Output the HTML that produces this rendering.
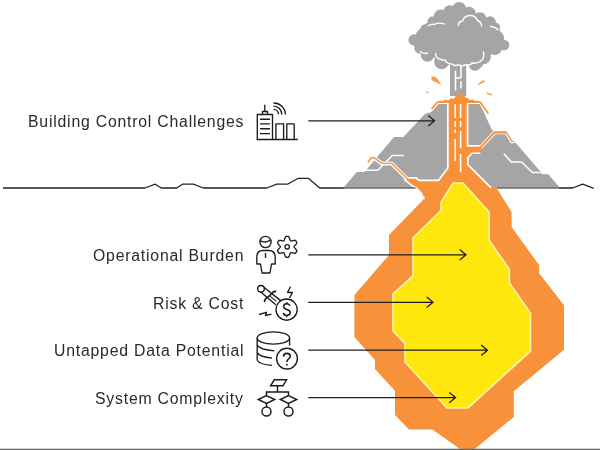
<!DOCTYPE html>
<html>
<head>
<meta charset="utf-8">
<title>Building Control Challenges</title>
<style>
html,body{margin:0;padding:0;background:#fff;}
body{width:600px;height:450px;overflow:hidden;position:relative;font-family:"Liberation Sans",sans-serif;}
svg{position:absolute;left:0;top:0;display:block;}
.lbl{position:absolute;right:356px;white-space:nowrap;color:#2a2a2a;font-size:15.8px;line-height:18px;letter-spacing:0.79px;will-change:transform;text-align:right;}
</style>
</head>
<body>
<svg width="600" height="450" viewBox="0 0 600 450">
<!-- ===== underground magma ===== -->
<g id="magma">
<path fill="#F7923A" d="M419,181 L440,181 L470,181 L488,187 L496,187 L511.6,212 L511.6,227 L539.2,265.3 L539.2,273.3 L564,305.3 L564,349.8 L513.8,391.3 L513.8,417 L474.7,449 L460,449 L432.4,429.6 L409,429.6 L395,415 L395,391 L375,369 L375,360 L354.4,337 L354.4,295 L389,255 L389,235 L423,200 L422.6,193.5 L417,187.5 Z"/>

</g>

<!-- ===== smoke ===== -->
<g id="smoke" fill="#A5A5A5">
<path d="M432,20 L459,5 L498,25 L505,45 L480,62 L440,62 L414,42 Z"/>
<circle cx="459.2" cy="9" r="7"/>
<circle cx="450" cy="12" r="6.8"/>
<circle cx="441" cy="17" r="7.5"/>
<circle cx="432.5" cy="21.5" r="5"/>
<circle cx="469" cy="13.5" r="6.8"/>
<circle cx="480" cy="18.5" r="6.2"/>
<circle cx="490" cy="22" r="5.8"/>
<circle cx="495.8" cy="27" r="4.2"/>
<circle cx="496.7" cy="38.3" r="7.5"/>
<circle cx="504" cy="45" r="5.3"/>
<circle cx="495" cy="48.3" r="6.7"/>
<circle cx="483.3" cy="56.7" r="7.5"/>
<circle cx="475" cy="64.5" r="6.2"/>
<circle cx="465" cy="57" r="8.3"/>
<circle cx="450" cy="55" r="8.8"/>
<circle cx="423.3" cy="35.8" r="7.5"/>
<circle cx="414.2" cy="40" r="5.8"/>
<circle cx="420" cy="48" r="5.8"/>
<circle cx="427.5" cy="55" r="6.7"/>
<circle cx="441.7" cy="61.7" r="7.5"/>
<circle cx="455" cy="58" r="9"/>
<circle cx="471.7" cy="57" r="8.3"/>
<circle cx="478.3" cy="63.3" r="5"/>
<circle cx="430" cy="28" r="6"/>
<circle cx="426" cy="30" r="6"/>
<rect x="450" y="60" width="16.2" height="36"/>
</g>
<g fill="none" stroke="#fff" stroke-width="1.4" stroke-linecap="round">
<path d="M458.3,25.5 Q458.5,21.5 462.5,21 Q464.5,15.5 470,15.5 Q475.5,15.5 477.5,20.5 Q481,21.5 481.7,26"/>
<path d="M428.5,25.8 Q431,23.5 434.5,24.5 Q439,22 444.2,24"/>
<path d="M490.5,26.5 Q495,26.5 498,30"/>
<path d="M420,51.5 Q424,54.5 427.5,53"/>
<path d="M435.5,53.5 Q436,59 441,59.5 Q443,60.5 445,60 Q447,64 452,64 Q455.2,66.6 458.6,64.6 Q462.2,66.8 466,64.6 Q470,66 472.4,63"/>
<path d="M483.5,52 Q485,59 480,61.5 Q476,64 472,63"/>
<path stroke-width="1.6" stroke-linecap="butt" d="M455.5,70.5 V90.5 M460.9,65 V78 M460.9,81.3 V88.5 M455.5,78 H460.9"/>
</g>

<!-- ===== volcano ===== -->
<g id="volcano">
<!-- mountain silhouette -->
<path fill="#A5A5A5" d="M343.3,188 L356.7,172 L364.5,172 L394,137 L403.3,137 L425,114 L431.3,112 L437.3,104 L480,104 L492,130 L494,131 L507,131 L512,141 L515.8,143 L540.8,172 L541.2,174 L548.3,174.2 L560,188 Z"/>
<!-- white step lines -->
<g fill="none" stroke="#fff" stroke-width="1.6">
<path d="M365,170.3 L377.8,170.3 L392.3,155.5 L404,155.5"/>
<path d="M503.8,153.8 L511.5,162 L521.5,162 L532.5,172.5 L540.5,172.5"/>
</g>
<!-- lava: white underlay -->
<g fill="none" stroke="#fff" stroke-linejoin="miter">
<path stroke-width="3.8" d="M367.8,162.8 L371.3,158 L374.3,158 L381.8,163.6 L391.8,163.6 L408,179.8"/>
<path stroke-width="3.8" d="M479,149 L494.6,132.4 L506.5,132.4 L511.8,141.4 L514,141.4"/>
<path stroke-width="3.4" d="M422.9,199.5 L422.6,193.5 L417,187.5 L412.2,184.7 L406.3,180 L408,178.8 L415.7,178.8 L418.6,181.2 L439,181.2 L448.7,168.3 L448.7,103"/>
<path stroke-width="3.4" d="M466.7,103 L466.7,146.7 L480,146.7 M480.3,152.4 L471.5,152.4 L467,157.5 L467,165 L490.5,188.5"/>
<path stroke-width="3.8" d="M431.2,109.5 L437.5,102 L480.2,102 L488.6,114"/>
</g>
<!-- lava: orange -->
<g fill="none" stroke="#F7923A" stroke-linejoin="miter">
<path stroke-width="1.4" d="M367.8,162.5 L371.3,157.8 L374.3,157.8 L381.8,163.4 L391.8,163.4 L408,179.4"/>
<path stroke-width="2.1" d="M479,149 L494.6,132.4 L506.5,132.4"/>
<path stroke-width="1.4" d="M506.5,132.4 L511.8,141.4 L514,141.4"/>
<path stroke-width="1.7" d="M431.6,109 L437.5,102 L480.2,102 L488.3,113.5"/>
</g>
<path fill="#F7923A" d="M448.7,100 L466.7,100 L466.7,146.7 L480.5,146.7 L482,150 L480.3,152.4 L471.5,152.4 L467,157.5 L467,165 L490,188 L500,196 L423,196 L422.6,193.5 L417,187.5 L412.2,184.7 L406.3,180 L408,178.8 L415.7,178.8 L418.6,181.2 L439,181.2 L448.7,168.3 Z"/>
<!-- lava top -->
<path fill="#F7923A" d="M437.5,103 L440,100.5 L443,101 L445,99.5 L448,100.5 L451,98.5 L454.5,98.5 Q455.5,94 459.5,93.3 Q464,93.5 465.5,97.5 L468,98.5 L470,100 L473,99.5 L475,101 L478,100.5 L480.2,103 Z"/>
<!-- white dashes in conduit -->
<g stroke="#fff" stroke-width="1.5" fill="none">
<path d="M455.2,104 V118 M455.2,121 V127 M455.2,129.5 V133 M455.2,139 V161"/>
<path d="M460.6,104 V118 M460.6,121 V127 M460.6,131 V148 M460.6,154 V172"/>
</g>
</g>

<!-- yellow core -->
<path fill="#FFE60C" stroke="#FFF3A6" stroke-width="1.7" d="M453,183 L463,183 L489,212 L489,240 L509.3,269.3 L509.3,282.7 L530.5,313.3 L530.5,351 L468,408 L447,408 L405,362 L405,343.5 L393,331 L393,294 L413,276 L413,238 L441,210.5 L441,202.5 Z"/>
<!-- sparks -->
<g id="sparks" fill="#F99B45">
<path d="M431.4,77.2 Q433.4,75.2 436.6,78 Q439.4,80.8 441.2,85 Q437,82.4 433.6,81.2 Q430.6,79.8 431.4,77.2 Z"/>
<path d="M477.2,85.6 Q479,81.6 484.6,80.2 Q485.6,82 482.2,83.2 Q479.6,84 477.2,85.6 Z"/>
<path d="M487,92.2 L492.4,94.2 L491.9,95.8 L486.7,93.9 Z" opacity="0.85"/>
<path d="M426.4,91 L429.2,92 L428.7,93.4 L426,92.5 Z" opacity="0.75"/>
</g>

<!-- ground line -->
<path fill="none" stroke="#222" stroke-width="1.3" stroke-linejoin="round" d="M3,188 L144.7,188 L155.3,184.2 L161.3,188 L176.7,188 L182.5,184.2 L193.3,184.2 L203.3,188 L266.7,188 L276.7,184.2 L287.5,184.2 L298.3,178.3 L308.3,178.3 L319.7,188 L344,188"/>
<path fill="none" stroke="#6b6b6b" stroke-width="1.3" d="M343.5,188 L415.5,188 M497,188 L560,188"/>
<path fill="none" stroke="#222" stroke-width="1.3" stroke-linejoin="round" d="M559.5,188 L572.5,188 L582.8,184.2 L593.7,188.3"/>
<!-- ===== arrows ===== -->
<g id="arrows" fill="none" stroke="#1e1e1e" stroke-width="1.25" stroke-linejoin="miter">
<path d="M308.3,120.8 L434.20000000000005,120.8 M428.3,115.6 L434.6,120.8 L428.3,126.0"/>
<path d="M308.3,254.8 L465.6,254.8 M459.7,249.6 L466,254.8 L459.7,260.0"/>
<path d="M308.3,302.3 L432.6,302.3 M426.7,297.1 L433,302.3 L426.7,307.5"/>
<path d="M308.3,350.2 L487.1,350.2 M481.2,345.0 L487.5,350.2 L481.2,355.4"/>
<path d="M308.3,397.6 L455.20000000000005,397.6 M449.3,392.4 L455.6,397.6 L449.3,402.8"/>
</g>
<!-- ===== icons ===== -->
<g id="icons" fill="none" stroke="#1c1c1c" stroke-width="1.35" stroke-linejoin="round" stroke-linecap="butt">
<!-- building -->
<g>
<path d="M256.7,139.5 H297.8"/>
<path d="M257.3,139.5 V114.5 H272.5 V139.5"/>
<path d="M262.5,114.5 V111.5 H267.5 V114.5"/>
<path d="M264.8,111.5 V104.7"/>
<path d="M260,119.2 H270 M260,123.9 H270 M260,128.7 H270 M260,133.6 H270"/>
<path d="M275.9,139.5 V123.9 H283.6 V139.5"/>
<path d="M286.8,139.5 V123.9 H294.2 V139.5"/>
<path d="M273.5,109.4 A5,5 0 0 1 278.5,114.3"/>
<path d="M273.5,106.2 A8.3,8.3 0 0 1 281.9,114.4"/>
<path d="M273.5,103 A11.7,11.7 0 0 1 285.4,114.5"/>
</g>
<!-- person + gear -->
<g>
<circle cx="265.5" cy="242" r="5.6"/>
<path d="M260.2,240.6 Q265,243.6 271,239.9"/>
<path d="M262.5,250.5 H269 Q275.2,250.5 275.2,257.5 V264 H271.5 L270,273 H262 L260.5,264 H256.8 V257.5 Q256.8,250.5 262.5,250.5 Z"/>
<path d="M265.5,253 V258"/>
<path d="M287.20,236.30 L287.38,236.30 L287.57,236.31 L287.75,236.31 L287.93,236.33 L288.12,236.34 L288.30,236.36 L288.48,236.38 L288.64,236.53 L288.79,236.74 L288.93,236.97 L289.07,237.20 L289.19,237.45 L289.30,237.71 L289.40,237.97 L289.50,238.23 L289.58,238.49 L289.66,238.74 L289.74,238.99 L289.81,239.22 L289.88,239.45 L289.94,239.66 L290.00,239.86 L290.07,240.04 L290.14,240.20 L290.21,240.35 L290.28,240.48 L290.37,240.59 L290.45,240.68 L290.55,240.76 L290.65,240.82 L290.76,240.88 L290.87,240.92 L291.00,240.95 L291.13,240.97 L291.28,240.97 L291.44,240.96 L291.62,240.94 L291.81,240.90 L292.01,240.86 L292.23,240.81 L292.46,240.75 L292.70,240.69 L292.95,240.64 L293.21,240.58 L293.48,240.52 L293.75,240.48 L294.03,240.44 L294.30,240.41 L294.58,240.39 L294.85,240.38 L295.12,240.39 L295.37,240.41 L295.59,240.48 L295.69,240.63 L295.80,240.78 L295.90,240.93 L296.01,241.08 L296.10,241.24 L296.20,241.39 L296.29,241.55 L296.38,241.71 L296.47,241.87 L296.56,242.03 L296.64,242.20 L296.72,242.36 L296.79,242.53 L296.87,242.70 L296.82,242.91 L296.71,243.15 L296.58,243.38 L296.44,243.62 L296.29,243.85 L296.12,244.07 L295.95,244.29 L295.77,244.50 L295.59,244.71 L295.41,244.90 L295.24,245.09 L295.07,245.27 L294.90,245.44 L294.75,245.60 L294.61,245.76 L294.49,245.91 L294.38,246.05 L294.29,246.18 L294.22,246.31 L294.16,246.44 L294.13,246.56 L294.11,246.68 L294.10,246.80 L294.11,246.92 L294.13,247.04 L294.16,247.16 L294.22,247.29 L294.29,247.42 L294.38,247.55 L294.49,247.69 L294.61,247.84 L294.75,248.00 L294.90,248.16 L295.07,248.33 L295.24,248.51 L295.41,248.70 L295.59,248.89 L295.77,249.10 L295.95,249.31 L296.12,249.53 L296.29,249.75 L296.44,249.98 L296.58,250.22 L296.71,250.45 L296.82,250.69 L296.87,250.90 L296.79,251.07 L296.72,251.24 L296.64,251.40 L296.56,251.57 L296.47,251.73 L296.38,251.89 L296.29,252.05 L296.20,252.21 L296.10,252.36 L296.01,252.52 L295.90,252.67 L295.80,252.82 L295.69,252.97 L295.59,253.12 L295.37,253.19 L295.12,253.21 L294.85,253.22 L294.58,253.21 L294.30,253.19 L294.03,253.16 L293.75,253.12 L293.48,253.08 L293.21,253.02 L292.95,252.96 L292.70,252.91 L292.46,252.85 L292.23,252.79 L292.01,252.74 L291.81,252.70 L291.62,252.66 L291.44,252.64 L291.28,252.63 L291.13,252.63 L291.00,252.65 L290.87,252.68 L290.76,252.72 L290.65,252.78 L290.55,252.84 L290.45,252.92 L290.37,253.01 L290.28,253.12 L290.21,253.25 L290.14,253.40 L290.07,253.56 L290.00,253.74 L289.94,253.94 L289.88,254.15 L289.81,254.38 L289.74,254.61 L289.66,254.86 L289.58,255.11 L289.50,255.37 L289.40,255.63 L289.30,255.89 L289.19,256.15 L289.07,256.40 L288.93,256.63 L288.79,256.86 L288.64,257.07 L288.48,257.22 L288.30,257.24 L288.12,257.26 L287.93,257.27 L287.75,257.29 L287.57,257.29 L287.38,257.30 L287.20,257.30 L287.02,257.30 L286.83,257.29 L286.65,257.29 L286.47,257.27 L286.28,257.26 L286.10,257.24 L285.92,257.22 L285.76,257.07 L285.61,256.86 L285.47,256.63 L285.33,256.40 L285.21,256.15 L285.10,255.89 L285.00,255.63 L284.90,255.37 L284.82,255.11 L284.74,254.86 L284.66,254.61 L284.59,254.38 L284.52,254.15 L284.46,253.94 L284.40,253.74 L284.33,253.56 L284.26,253.40 L284.19,253.25 L284.12,253.12 L284.03,253.01 L283.95,252.92 L283.85,252.84 L283.75,252.78 L283.64,252.72 L283.53,252.68 L283.40,252.65 L283.27,252.63 L283.12,252.63 L282.96,252.64 L282.78,252.66 L282.59,252.70 L282.39,252.74 L282.17,252.79 L281.94,252.85 L281.70,252.91 L281.45,252.96 L281.19,253.02 L280.92,253.08 L280.65,253.12 L280.37,253.16 L280.10,253.19 L279.82,253.21 L279.55,253.22 L279.28,253.21 L279.03,253.19 L278.81,253.12 L278.71,252.97 L278.60,252.82 L278.50,252.67 L278.39,252.52 L278.30,252.36 L278.20,252.21 L278.11,252.05 L278.02,251.89 L277.93,251.73 L277.84,251.57 L277.76,251.40 L277.68,251.24 L277.61,251.07 L277.53,250.90 L277.58,250.69 L277.69,250.45 L277.82,250.22 L277.96,249.98 L278.11,249.75 L278.28,249.53 L278.45,249.31 L278.63,249.10 L278.81,248.89 L278.99,248.70 L279.16,248.51 L279.33,248.33 L279.50,248.16 L279.65,248.00 L279.79,247.84 L279.91,247.69 L280.02,247.55 L280.11,247.42 L280.18,247.29 L280.24,247.16 L280.27,247.04 L280.29,246.92 L280.30,246.80 L280.29,246.68 L280.27,246.56 L280.24,246.44 L280.18,246.31 L280.11,246.18 L280.02,246.05 L279.91,245.91 L279.79,245.76 L279.65,245.60 L279.50,245.44 L279.33,245.27 L279.16,245.09 L278.99,244.90 L278.81,244.71 L278.63,244.50 L278.45,244.29 L278.28,244.07 L278.11,243.85 L277.96,243.62 L277.82,243.38 L277.69,243.15 L277.58,242.91 L277.53,242.70 L277.61,242.53 L277.68,242.36 L277.76,242.20 L277.84,242.03 L277.93,241.87 L278.02,241.71 L278.11,241.55 L278.20,241.39 L278.30,241.24 L278.39,241.08 L278.50,240.93 L278.60,240.78 L278.71,240.63 L278.81,240.48 L279.03,240.41 L279.28,240.39 L279.55,240.38 L279.82,240.39 L280.10,240.41 L280.37,240.44 L280.65,240.48 L280.92,240.52 L281.19,240.58 L281.45,240.64 L281.70,240.69 L281.94,240.75 L282.17,240.81 L282.39,240.86 L282.59,240.90 L282.78,240.94 L282.96,240.96 L283.12,240.97 L283.27,240.97 L283.40,240.95 L283.53,240.92 L283.64,240.88 L283.75,240.82 L283.85,240.76 L283.95,240.68 L284.03,240.59 L284.12,240.48 L284.19,240.35 L284.26,240.20 L284.33,240.04 L284.40,239.86 L284.46,239.66 L284.52,239.45 L284.59,239.22 L284.66,238.99 L284.74,238.74 L284.82,238.49 L284.90,238.23 L285.00,237.97 L285.10,237.71 L285.21,237.45 L285.33,237.20 L285.47,236.97 L285.61,236.74 L285.76,236.53 L285.92,236.38 L286.10,236.36 L286.28,236.34 L286.47,236.33 L286.65,236.31 L286.83,236.31 L287.02,236.30 Z"/>
<circle cx="287.2" cy="246.8" r="2.2"/>
</g>
<!-- risk & cost -->
<g>
<circle cx="286.6" cy="309.6" r="10.6"/>
<circle cx="261" cy="288.8" r="3.3"/>
<path d="M263.9,287.2 L280.6,300.6 M260.4,291.8 L275.8,304.8"/>
<path stroke-width="1.1" d="M269.6,295.8 L276.4,301.4"/>
<path stroke-width="1.7" d="M276.2,291.6 Q273.2,290.6 272.4,293.2 L266,298.6 Q264,300.2 264.8,302"/>
<path d="M290.5,286.5 L287.6,292.5 L292.4,292.5 L289.5,298"/>
<path d="M259,314.5 L266.4,312.3 L265.5,315.5 L271.5,314.2"/>
<path stroke-width="1.5" d="M290,305.8 Q289.3,303.8 286.8,303.8 Q283.6,303.8 283.6,306.5 Q283.6,308.6 286.8,309.4 Q290.2,310.2 290.2,312.6 Q290.2,315.4 286.8,315.4 Q283.8,315.4 283.2,313"/>
<path d="M286.8,302 V303.8 M286.8,315.4 V317.2"/>
</g>
<!-- database + question -->
<g>
<path d="M257.2,338 A16.2,6.1 0 0 1 289.6,338 A16.2,6.1 0 0 1 257.2,338 Z"/>
<path d="M257.2,338 V360.2 M289.6,338 V345.6"/>
<path d="M257.2,345.2 Q260,349.8 274.3,350.8"/>
<path d="M257.2,352.6 Q259.5,357 271.8,358"/>
<path d="M257.2,360.2 Q259.5,364.4 272,365.3"/>
<circle cx="287" cy="358.6" r="10.4"/>
<path stroke-width="1.6" d="M283.5,356.6 Q283.7,353.4 287,353.4 Q290.3,353.4 290.3,356.2 Q290.3,358 288.3,359.1 Q286.9,360 286.9,362"/>
<path stroke-width="1.7" d="M286.9,363.9 V365.6"/>
</g>
<!-- flowchart -->
<g stroke-linejoin="miter" stroke-width="1.45">
<path d="M274.2,379.8 H286.6 L283,385.8 H270.6 Z"/>
<path d="M277.5,385.8 V392 M266.5,395.6 V392 H288.5 V395.6"/>
<path d="M266.5,395.6 L274.7,399.5 L266.5,403.4 L258.3,399.5 Z"/>
<path d="M288.5,395.6 L296.7,399.5 L288.5,403.4 L280.3,399.5 Z"/>
<path d="M266.5,403.4 V407 M288.5,403.4 V407"/>
<circle cx="266.5" cy="411.5" r="4.5"/>
<circle cx="288.5" cy="411.5" r="4.5"/>
</g>
</g>
<rect x="0" y="448.7" width="600" height="1.3" fill="#6a6a6a"/>
</svg>

<div class="lbl" style="top:113px">Building Control Challenges</div>
<div class="lbl" style="top:247px">Operational Burden</div>
<div class="lbl" style="top:295px">Risk &amp; Cost</div>
<div class="lbl" style="top:342px">Untapped Data Potential</div>
<div class="lbl" style="top:390px">System Complexity</div>
</body>
</html>
